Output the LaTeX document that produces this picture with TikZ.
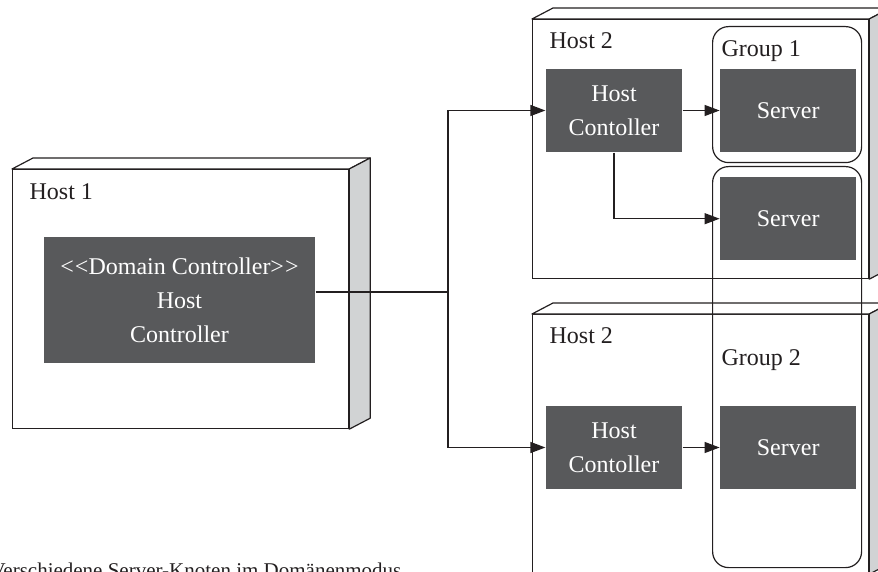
\documentclass[tikz,border=0pt]{standalone}
\usepackage{fontspec}
\setmainfont{Liberation Serif}
\usetikzlibrary{
	arrows.meta,
	positioning,
	calc,
}
\definecolor{boxgray}{HTML}{58595B}
\definecolor{sidegray}{HTML}{D1D3D4}
\definecolor{linegray}{HTML}{231F20}
\tikzset{host/.style={
		% The shape:
		rectangle,
		% The size:
		minimum width=336pt,minimum height=259pt,
		% The border:
		draw=linegray,
		% The filling:
		fill=white,
		% place it by its top left corner
		anchor=north west,inner sep=0pt,
}}
\tikzset{hostface/.style={
		draw=linegray,line join=round,
}}
\tikzset{ctrl/.style={
		% The shape:
		rectangle,
		% The size:
		minimum width=136pt,minimum height=83pt,
		% The filling:
		fill=boxgray,text=white,
		% make sure text aligns properly 
		align=center,font=\fontsize{24}{34}\selectfont,
}}
\tikzset{groupbox/.style={
		% The shape:
		rectangle,rounded corners=16pt,
		% The border:
		draw=linegray,
		anchor=north west,inner sep=0pt,
}}
\tikzset{hostlabel/.style={
		anchor=base west,inner sep=0pt,
		font=\fontsize{24}{28}\selectfont,
}}

\begin{document}
\begin{tikzpicture}[>={Triangle[length=15pt,width=11pt]},line width=1.2pt,
	x=1pt,y=-1pt,linegray,text=linegray]
	\useasboundingbox (0,0) rectangle (878,572);
	\clip (0,0) rectangle (878,572);
	% hosts as boxes with a top and a side face
	\node[host] (host1) at (12,169) {};
	\node[host] (host2a) at (532,19) {};
	\node[host] (host2b) at (532,314) {};
	\foreach \h in {host1,host2a,host2b} {
		\draw[hostface,fill=white] (\h.north west) -- ++(21,-11) -- ($(\h.north east)+(21,-11)$) -- (\h.north east) -- cycle;
		\draw[hostface,fill=sidegray] (\h.north east) -- ++(21,-11) -- ($(\h.south east)+(21,-11)$) -- (\h.south east) -- cycle;
	}
	\node[hostlabel] (host1-label) at ($(host1.north west)+(17,31)$) {Host 1};
	\node[hostlabel] (host2a-label) at ($(host2a.north west)+(17,30)$) {Host 2};
	\node[hostlabel] (host2b-label) at ($(host2b.north west)+(17,29)$) {Host 2};
	% controllers and servers
	\node[ctrl,minimum width=271pt,minimum height=126pt] (dc) at (179.5,300)
		{<\kern1pt<Domain Controller>\kern1pt>\\Host\\Controller};
	\node[ctrl] (hc1) at (614,110.5) {Host\\Contoller};
	\node[ctrl,right=37pt of hc1] (srv1) {Server};
	\node[ctrl,below=24pt of srv1] (srv2) {Server};
	\node[ctrl] (hc2) at (614,447.5) {Host\\Contoller};
	\node[ctrl,right=37pt of hc2] (srv3) {Server};
	% server groups
	\node[groupbox,minimum width=149pt,minimum height=136pt] (grp1) at (712,26) {};
	\node[groupbox,minimum width=149pt,minimum height=401pt] (grp2) at (712,166) {};
	\node[hostlabel] (grp1-label) at ($(grp1.north west)+(9,31)$) {Group 1};
	\node[hostlabel] (grp2-label) at ($(grp2.north west)+(9,199)$) {Group 2};
	% connections
	\coordinate (split) at (448,292);
	\draw ([yshift=8pt]dc.east) -- (split);
	\draw[->] (split) |- (hc1);
	\draw[->] (split) |- (hc2);
	\draw[->] (hc1) -- (srv1);
	\draw[->] (hc1) |- (srv2);
	\draw[->] (hc2) -- (srv3);
	\node[anchor=base west,inner sep=0pt,font=\fontsize{21}{24}\selectfont] (caption) at (-10,577)
		{Verschiedene Server-Knoten im Domänenmodus};
\end{tikzpicture}
\end{document}
